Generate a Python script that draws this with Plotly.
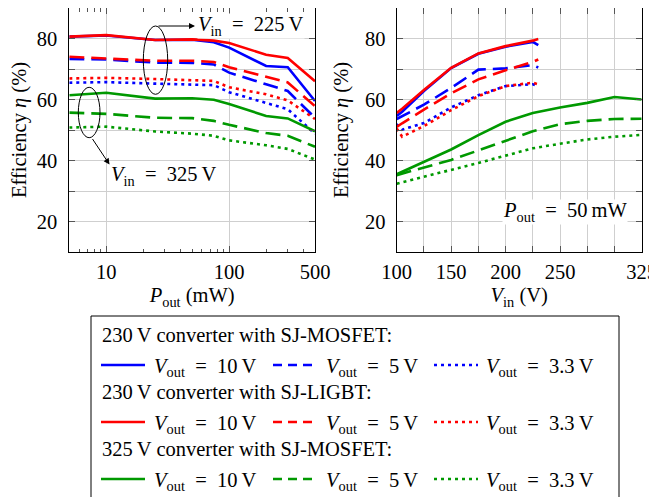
import numpy as np
import plotly.graph_objects as go

# ---------------- data ----------------
# Left plot: efficiency vs output power (mW), Vin fixed
pout_mw = [5, 10, 25, 50, 75, 100, 200, 300, 500]
eff_mos230_10v = [80.6, 81.0, 79.5, 79.6, 78.8, 77.0, 71.0, 70.6, 59.5]
eff_mos230_5v = [73.3, 73.1, 72.1, 72.0, 71.5, 68.8, 65.0, 62.8, 54.0]
eff_mos230_33v = [65.5, 65.7, 65.2, 65.0, 64.7, 62.4, 59.0, 56.8, 48.8]
eff_igbt230_10v = [80.6, 81.1, 79.5, 79.7, 79.3, 78.5, 74.7, 73.6, 66.0]
eff_igbt230_5v = [74.0, 73.4, 72.7, 72.7, 72.3, 70.6, 67.3, 65.6, 57.8]
eff_igbt230_33v = [66.9, 67.1, 66.7, 66.4, 66.1, 64.0, 61.7, 59.7, 53.6]
eff_mos325_10v = [61.4, 62.2, 60.3, 60.4, 59.9, 58.5, 54.6, 53.8, 49.6]
eff_mos325_5v = [55.7, 55.3, 54.0, 53.9, 53.0, 51.7, 49.0, 48.1, 44.5]
eff_mos325_33v = [50.8, 51.1, 49.5, 48.8, 48.1, 46.6, 45.0, 43.8, 40.3]

# Right plot: efficiency vs input voltage, Pout = 50 mW
vin_230 = [100, 105, 125, 150, 175, 200, 225, 230]
vin_325 = [100, 150, 175, 200, 225, 250, 275, 300, 325]
effv_mos230_10v = [54.6, 56.0, 62.8, 70.3, 75.0, 77.3, 78.9, 77.8]
effv_mos230_5v = [53.6, 54.5, 58.3, 63.8, 69.8, 70.2, 71.3, 70.5]
effv_mos230_33v = [51.9, 50.1, 52.3, 57.4, 61.4, 64.4, 65.0, 64.2]
effv_igbt230_10v = [55.6, 57.0, 63.1, 70.4, 75.1, 77.5, 79.3, 79.8]
effv_igbt230_5v = [51.0, 52.2, 56.7, 62.0, 66.6, 69.6, 72.3, 73.1]
effv_igbt230_33v = [50.5, 47.8, 51.3, 56.5, 61.1, 64.4, 65.5, 65.0]
effv_mos325_10v = [35.5, 43.6, 48.3, 52.7, 55.6, 57.4, 58.9, 60.8, 60.0]
effv_mos325_5v = [35.2, 40.2, 43.3, 46.5, 49.6, 51.9, 53.0, 53.6, 53.7]
effv_mos325_33v = [32.4, 36.8, 39.2, 41.6, 44.0, 45.5, 46.9, 47.8, 48.4]

group_titles = ["230\u2009V converter with SJ-MOSFET:",
                "230\u2009V converter with SJ-LIGBT:",
                "325\u2009V converter with SJ-MOSFET:"]
vout_labels = ["10", "5", "3.3"]
group_colors = ["#0000ff", "#ff0000", "#009900"]
line_dashes = ["solid", "15px,7px", "3px,4px"]
legend_dashes = ["solid", "9px,6px", "3px,4px"]

left_x_ticks = [10, 100, 500]
left_x_minor = [6, 7, 8, 9, 20, 30, 40, 50, 60, 70, 80, 90, 200, 300, 400]
right_x_ticks = [100, 125, 150, 175, 200, 225, 250, 275, 300, 325]
right_x_labels = ["100", "", "150", "", "200", "", "250", "", "", "325"]
y_ticks = [20, 30, 40, 50, 60, 70, 80]
y_labels = ["20", "", "40", "", "60", "", "80"]

left_series = [[eff_mos230_10v, eff_mos230_5v, eff_mos230_33v],
               [eff_igbt230_10v, eff_igbt230_5v, eff_igbt230_33v],
               [eff_mos325_10v, eff_mos325_5v, eff_mos325_33v]]
right_series = [[effv_mos230_10v, effv_mos230_5v, effv_mos230_33v],
                [effv_igbt230_10v, effv_igbt230_5v, effv_igbt230_33v],
                [effv_mos325_10v, effv_mos325_5v, effv_mos325_33v]]
right_x = [vin_230, vin_230, vin_325]

# ---------------- figure ----------------
# The page body has an 8px default margin, so the figure is drawn 8px in
# from the window corner; size it to fill the rest of the window.
OFF = 8
W, H = 657 - OFF, 497 - OFF
FONT = "Liberation Serif"
FS = 20.5
EQ = "\u2002=\u2002"


def px(x):
    return (x - OFF) / W


def py(y):
    return 1 - (y - OFF) / H


fig = go.Figure()
for g in range(3):
    for k in range(3):
        name = f"{group_titles[g]} Vout={vout_labels[k]} V"
        fig.add_trace(go.Scatter(x=pout_mw, y=left_series[g][k], mode="lines",
                                 line=dict(color=group_colors[g], width=2.6, dash=line_dashes[k]),
                                 name=name, showlegend=False, xaxis="x", yaxis="y"))
        fig.add_trace(go.Scatter(x=right_x[g], y=right_series[g][k], mode="lines",
                                 line=dict(color=group_colors[g], width=2.6, dash=line_dashes[k]),
                                 name=name, showlegend=False, xaxis="x2", yaxis="y2"))

grid = "#cfcfcf"
tickc = "#555555"
common_axis = dict(showline=True, linecolor="black", linewidth=1, mirror="allticks",
                   ticks="inside", ticklen=6, tickcolor=tickc, tickwidth=1,
                   showgrid=True, gridcolor=grid, gridwidth=1, zeroline=False,
                   automargin=False, ticklabeloverflow="allow",
                   tickfont=dict(family=FONT, size=FS, color="black"))

ydom = [py(252), py(8)]
fig.update_layout(
    template="none",
    width=W, height=H, margin=dict(l=0, r=0, t=0, b=0, pad=0),
    paper_bgcolor="white", plot_bgcolor="white",
    font=dict(family=FONT, size=FS, color="black"),
    xaxis=dict(common_axis, type="log", range=[np.log10(5), np.log10(500)],
               domain=[px(69.3), px(315)], tickvals=left_x_ticks,
               ticktext=[str(v) for v in left_x_ticks], ticklabelstandoff=1,
               minor=dict(tickvals=left_x_minor, ticks="inside", ticklen=3.5,
                          tickcolor=tickc, showgrid=False),
               title=dict(text="<i>P</i><sub>out</sub> (mW)", standoff=6,
                          font=dict(family=FONT, size=FS)),
               anchor="y"),
    yaxis=dict(common_axis, range=[10, 90], domain=ydom, tickvals=y_ticks,
               ticktext=y_labels, ticklabelstandoff=7,
               title=dict(text="Efficiency <i>η</i> (%)", standoff=10,
                          font=dict(family=FONT, size=FS)),
               anchor="x"),
    xaxis2=dict(common_axis, range=[100, 325], domain=[px(396.7), px(641.7)],
                tickvals=right_x_ticks, ticktext=right_x_labels, ticklabelstandoff=1,
                title=dict(text="<i>V</i><sub>in</sub> (V)", standoff=6,
                           font=dict(family=FONT, size=FS)),
                anchor="y2"),
    yaxis2=dict(common_axis, range=[10, 90], domain=ydom, tickvals=y_ticks,
                ticktext=y_labels, ticklabelstandoff=6,
                title=dict(text="Efficiency <i>η</i> (%)", standoff=10,
                           font=dict(family=FONT, size=FS)),
                anchor="x2"),
)

shapes = []
annos = []
# ellipses marking the two Vin groups
shapes.append(dict(type="circle", xref="paper", yref="paper", layer="above",
                   x0=px(143.3), x1=px(167.7), y0=py(94.3), y1=py(26),
                   line=dict(color="black", width=1)))
shapes.append(dict(type="circle", xref="paper", yref="paper", layer="above",
                   x0=px(78.3), x1=px(100), y0=py(137.7), y1=py(87.3),
                   line=dict(color="black", width=1)))
# arrows
annos.append(dict(xref="paper", yref="paper", x=px(195), y=py(26), text="",
                  showarrow=True, ax=-38, ay=0, arrowhead=2, arrowsize=1.2,
                  arrowwidth=1, arrowcolor="black"))
annos.append(dict(xref="paper", yref="paper", x=px(109.5), y=py(164.5), text="",
                  showarrow=True, ax=-18, ay=-27, arrowhead=2, arrowsize=1.2,
                  arrowwidth=1, arrowcolor="black"))
# labels (white boxes kept short so they do not hide curves)
annos.append(dict(xref="paper", yref="paper", x=px(197), y=py(26),
                  xanchor="left", yanchor="middle",
                  text=f"<i>V</i><sub>in</sub>{EQ}225\u2009V", showarrow=False,
                  height=24, valign="middle",
                  bgcolor="white", borderpad=0, font=dict(family=FONT, size=FS)))
annos.append(dict(xref="paper", yref="paper", x=px(110), y=py(176),
                  xanchor="left", yanchor="middle",
                  text=f"<i>V</i><sub>in</sub>{EQ}325\u2009V", showarrow=False,
                  height=24, valign="middle",
                  bgcolor="white", borderpad=0, font=dict(family=FONT, size=FS)))
annos.append(dict(xref="paper", yref="paper", x=px(628), y=py(212),
                  xanchor="right", yanchor="middle",
                  text=f"<i>P</i><sub>out</sub>{EQ}50\u2009mW", showarrow=False,
                  height=24, valign="middle",
                  bgcolor="white", borderpad=0, font=dict(family=FONT, size=FS)))

# ---------------- custom legend ----------------
# open-bottomed frame (the box continues past the bottom edge)
lx0, lx1, ly0, ly1 = px(91), px(619), py(316), py(520)
shapes.append(dict(type="path", xref="paper", yref="paper", layer="above",
                   path=f"M {lx0},{ly1} L {lx0},{ly0} L {lx1},{ly0} L {lx1},{ly1}",
                   line=dict(color="black", width=1)))
header_y = [335, 392, 449]
row_dy = 30
sample_x = [(101, 145), (273, 312), (434, 478)]
text_x = [153, 325, 485]
for g in range(3):
    annos.append(dict(xref="paper", yref="paper", x=px(101), y=py(header_y[g]),
                      xanchor="left", yanchor="middle", text=group_titles[g],
                      showarrow=False, borderpad=0, font=dict(family=FONT, size=FS)))
    ry = header_y[g] + row_dy
    for k in range(3):
        shapes.append(dict(type="line", xref="paper", yref="paper", layer="above",
                           x0=px(sample_x[k][0]), x1=px(sample_x[k][1]),
                           y0=py(ry), y1=py(ry),
                           line=dict(color=group_colors[g], width=2.6, dash=legend_dashes[k])))
        annos.append(dict(xref="paper", yref="paper", x=px(text_x[k]), y=py(ry + 2),
                          xanchor="left", yanchor="middle", borderpad=0,
                          text=f"<i>V</i><sub>out</sub>{EQ}{vout_labels[k]}\u2009V",
                          showarrow=False, font=dict(family=FONT, size=FS)))

fig.update_layout(shapes=shapes, annotations=annos)
fig.write_html("out.html")
